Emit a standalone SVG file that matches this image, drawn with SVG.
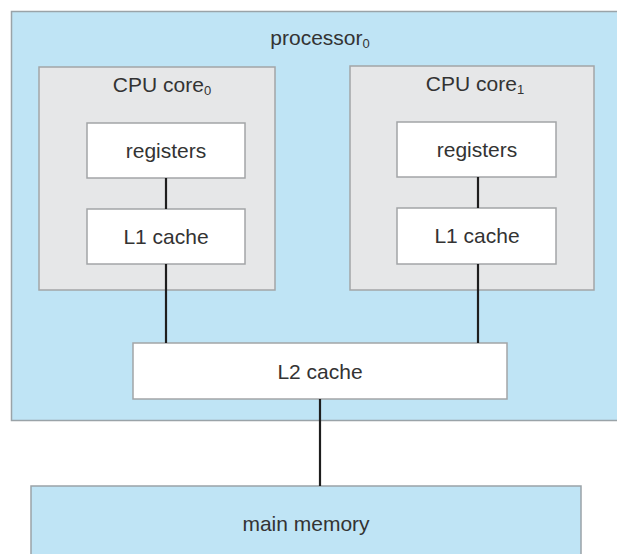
<svg xmlns="http://www.w3.org/2000/svg" width="617" height="554" viewBox="0 0 617 554">
<style>
.blue{fill:#bfe4f5;stroke:#9aa3a8;stroke-width:1.5}
.core{fill:#e6e7e8;stroke:#a3a5a7;stroke-width:1.5}
.box{fill:#ffffff;stroke:#a3a5a7;stroke-width:1.5}
.t{font-family:"Liberation Sans",Arial,sans-serif;font-size:21px;fill:#333333;text-anchor:middle}
.sub{font-size:13px}
.wire{stroke:#1e1e1e;stroke-width:2.2;fill:none}
</style>
<rect width="617" height="554" fill="#ffffff"/>
<g id="processor0">
<rect class="blue" x="11.5" y="11.5" width="620" height="409"/>
<text class="t" x="320" y="45">processor<tspan class="sub" dy="3">0</tspan></text>
</g>
<g id="core0">
<rect class="core" x="39" y="67" width="236" height="223"/>
<text class="t" x="162" y="92">CPU core<tspan class="sub" dy="3">0</tspan></text>
</g>
<g id="core1">
<rect class="core" x="350" y="66" width="244" height="224"/>
<text class="t" x="475" y="91">CPU core<tspan class="sub" dy="3">1</tspan></text>
</g>
<g id="registers0">
<rect class="box" x="87" y="123" width="158" height="55"/>
<text class="t" x="166" y="158">registers</text>
</g>
<g id="l1cache0">
<rect class="box" x="87" y="209" width="158" height="55"/>
<text class="t" x="166" y="244">L1 cache</text>
</g>
<g id="registers1">
<rect class="box" x="397" y="122" width="159" height="55"/>
<text class="t" x="477" y="157">registers</text>
</g>
<g id="l1cache1">
<rect class="box" x="397" y="208" width="159" height="56"/>
<text class="t" x="477" y="243">L1 cache</text>
</g>
<g id="l2cache">
<rect class="box" x="133" y="343" width="374" height="56"/>
<text class="t" x="320" y="379">L2 cache</text>
</g>
<g id="mainmemory">
<rect class="blue" x="31" y="486" width="550" height="80"/>
<text class="t" x="306" y="531">main memory</text>
</g>
<g id="connectors">
<line class="wire" x1="166" y1="178" x2="166" y2="209"/>
<line class="wire" x1="478" y1="177" x2="478" y2="208"/>
<line class="wire" x1="166" y1="264" x2="166" y2="343"/>
<line class="wire" x1="478" y1="264" x2="478" y2="343"/>
<line class="wire" x1="320" y1="399" x2="320" y2="486"/>
</g>
</svg>
